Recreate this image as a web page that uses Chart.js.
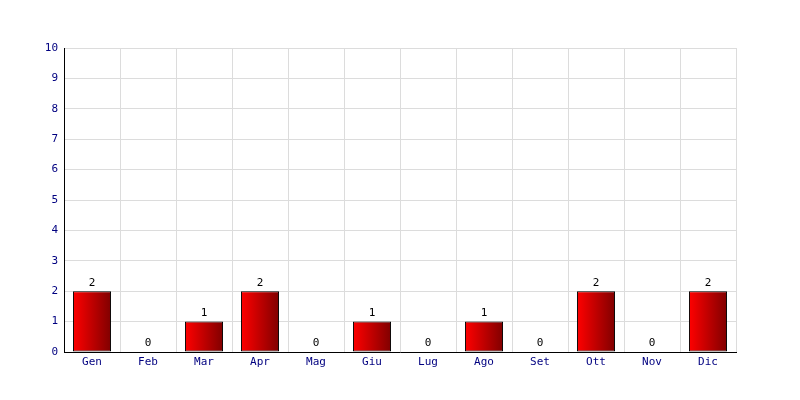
<!DOCTYPE html>
<html>
<head>
<meta charset="utf-8">
<script src="https://cdn.jsdelivr.net/npm/chart.js@4/dist/chart.umd.min.js"></script>
<style>
html,body{margin:0;padding:0;background:#fff;}
#wrap{width:800px;height:400px;}
</style>
</head>
<body>
<div id="wrap"><canvas id="c" width="800" height="400"></canvas></div>
<script>
const categories = ["Gen","Feb","Mar","Apr","Mag","Giu","Lug","Ago","Set","Ott","Nov","Dic"];
const values = [2,0,1,2,0,1,0,1,0,2,0,2];
const yTicks = [0,1,2,3,4,5,6,7,8,9,10];

const FONT = "'DejaVu Sans Mono', monospace";

const valueLabels = {
  id: 'valueLabels',
  afterDatasetsDraw(chart) {
    const ctx = chart.ctx;
    const meta = chart.getDatasetMeta(0);
    ctx.save();
    ctx.font = "11px " + FONT;
    ctx.fillStyle = '#000';
    ctx.textAlign = 'center';
    ctx.textBaseline = 'bottom';
    meta.data.forEach((el, i) => {
      ctx.fillText(String(values[i]), el.x, el.y - 3);
    });
    ctx.restore();
  }
};

function barGradient(context) {
  const chart = context.chart;
  const area = chart.chartArea;
  if (!area || !chart.scales.x) return '#d00000';
  const xs = chart.scales.x;
  const cx = xs.getPixelForValue(context.dataIndex);
  const w = (area.right - area.left) / categories.length * 0.68;
  const g = chart.ctx.createLinearGradient(cx - w/2, 0, cx + w/2, 0);
  g.addColorStop(0, '#ff0000');
  g.addColorStop(1, '#800000');
  return g;
}

new Chart(document.getElementById('c'), {
  type: 'bar',
  data: {
    labels: categories,
    datasets: [{
      data: values,
      backgroundColor: barGradient,
      borderColor: '#000',
      borderWidth: 1,
      borderSkipped: false,
      categoryPercentage: 1.0,
      barPercentage: 0.68
    }]
  },
  options: {
    responsive: false,
    animation: false,
    devicePixelRatio: 1,
    layout: { padding: { top: 48, right: 64, left: 0, bottom: 0 } },
    plugins: { legend: { display: false }, tooltip: { enabled: false } },
    scales: {
      x: {
        grid: { color: '#dcdcdc', drawTicks: false, offset: true },
        border: { color: '#000', width: 1 },
        ticks: { color: '#000080', font: { family: FONT, size: 11 }, padding: 4, maxRotation: 0 },
        afterFit(s) { s.height = 48; }
      },
      y: {
        min: 0, max: 10,
        grid: { color: '#dcdcdc', drawTicks: false },
        border: { color: '#000', width: 1 },
        afterBuildTicks(s) { s.ticks = yTicks.map(v => ({ value: v })); },
        ticks: { color: '#000080', font: { family: FONT, size: 11 }, padding: 6 },
        afterFit(s) { s.width = 64; }
      }
    }
  },
  plugins: [valueLabels]
});
</script>
</body>
</html>
